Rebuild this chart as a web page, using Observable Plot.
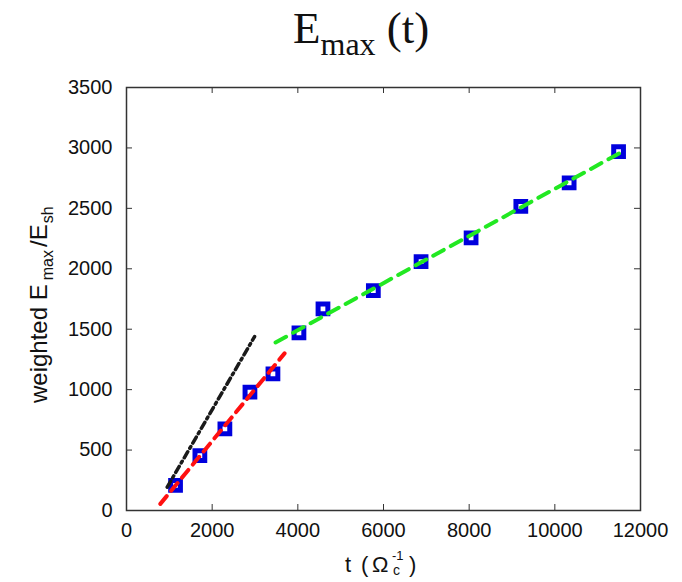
<!DOCTYPE html>
<html><head><meta charset="utf-8">
<script src="https://cdn.jsdelivr.net/npm/d3@7"></script>
<script src="https://cdn.jsdelivr.net/npm/@observablehq/plot@0.6"></script>
<style>body{margin:0;background:#fff;}</style>
</head><body><div id="chart"></div>
<script>
// Data
const pointT = [1145, 1713, 2297, 2882, 3419, 4026, 4587, 5763, 6877, 8045, 9206, 10334, 11488];
const pointE = [207, 455, 676, 979, 1130, 1470, 1668, 1820, 2060, 2255, 2517, 2710, 2969];
const blackT = [950, 2990];
const blackE = [193, 1439];
const redT = [790, 3690];
const redE = [55, 1300];
const greenT = [3480, 11620];
const greenE = [1390, 2978];
const xTicks = [0, 2000, 4000, 6000, 8000, 10000, 12000];
const yTicks = [0, 500, 1000, 1500, 2000, 2500, 3000, 3500];

const W = 682, H = 582;
const M = {top: 87, right: 42, bottom: 72, left: 126};
const innerW = W - M.left - M.right, innerH = H - M.top - M.bottom;
const tick = 6;

const points = pointT.map((t, i) => ({t, e: pointE[i]}));
const mk = (T, E) => T.map((t, i) => ({t, e: E[i]}));

const plot = Plot.plot({
  width: W, height: H,
  marginTop: M.top, marginRight: M.right, marginBottom: M.bottom, marginLeft: M.left,
  style: {fontSize: "20px", fontFamily: "'Liberation Sans', Arial, sans-serif", color: "#111", background: "#fff"},
  x: {domain: [0, 12000]},
  y: {domain: [0, 3500]},
  marks: [
    Plot.axisX({ticks: xTicks, tickSize: 0, tickPadding: 12, tickFormat: "d", label: null, letterSpacing: 1.2}),
    Plot.axisY({ticks: yTicks, tickSize: 0, tickPadding: 14, tickFormat: "d", label: null, letterSpacing: 1.2}),
    Plot.ruleX(xTicks, {x: d => d, insetTop: innerH - tick, stroke: "#333"}),
    Plot.ruleX(xTicks, {x: d => d, insetBottom: innerH - tick, stroke: "#333"}),
    Plot.ruleY(yTicks, {y: d => d, insetRight: innerW - tick, stroke: "#333"}),
    Plot.ruleY(yTicks, {y: d => d, insetLeft: innerW - tick, stroke: "#333"}),
    Plot.frame({stroke: "#333", strokeWidth: 1.5}),
    Plot.dot(points, {x: "t", y: "e", symbol: "square", r: 5.5, stroke: "#0000dd", strokeWidth: 5, fill: "#fff"}),
    Plot.line(mk(blackT, blackE), {x: "t", y: "e", stroke: "#1a1a1a", strokeWidth: 3.5, strokeDasharray: "7,4,2,4"}),
    Plot.line(mk(redT, redE), {x: "t", y: "e", stroke: "#ff1010", strokeWidth: 4, strokeDasharray: "10,7"}),
    Plot.line(mk(greenT, greenE), {x: "t", y: "e", stroke: "#22e822", strokeWidth: 4, strokeDasharray: "12,8"})
  ]
});
document.getElementById("chart").appendChild(plot);

const svg = d3.select(plot);
// Title
const title = svg.append("text").attr("x", 293).attr("y", 43).attr("text-anchor", "start")
  .attr("font-family", "'Liberation Serif', 'DejaVu Serif', serif").attr("font-size", 45).attr("fill", "#111");
title.append("tspan").text("E");
title.append("tspan").attr("font-size", 32).attr("dy", 12).text("max");
title.append("tspan").attr("font-size", 45).attr("dy", -12).text("\u00a0(t)");

// Y label
const yl = svg.append("text").attr("transform", "translate(47,403) rotate(-90)").attr("text-anchor", "start")
  .attr("font-size", 24).attr("fill", "#111");
yl.append("tspan").text("weighted E");
yl.append("tspan").attr("font-size", 16).attr("dy", 6).attr("dx", 4).text("max");
yl.append("tspan").attr("font-size", 24).attr("dy", -6).attr("dx", 3).text("/E");
yl.append("tspan").attr("font-size", 16).attr("dy", 6).attr("dx", 1).text("sh");

// X label
const xl = svg.append("g").attr("fill", "#111").attr("text-anchor", "start");
xl.append("text").attr("x", 345).attr("y", 572).attr("font-size", 22).text("t");
xl.append("text").attr("x", 361).attr("y", 572).attr("font-size", 22).text("(");
xl.append("text").attr("x", 372).attr("y", 572).attr("font-size", 22).text("\u03a9");
xl.append("text").attr("x", 392).attr("y", 560).attr("font-size", 13).text("-1");
xl.append("text").attr("x", 393).attr("y", 575).attr("font-size", 14).text("c");
xl.append("text").attr("x", 409).attr("y", 572).attr("font-size", 22).text(")");
</script></body></html>
